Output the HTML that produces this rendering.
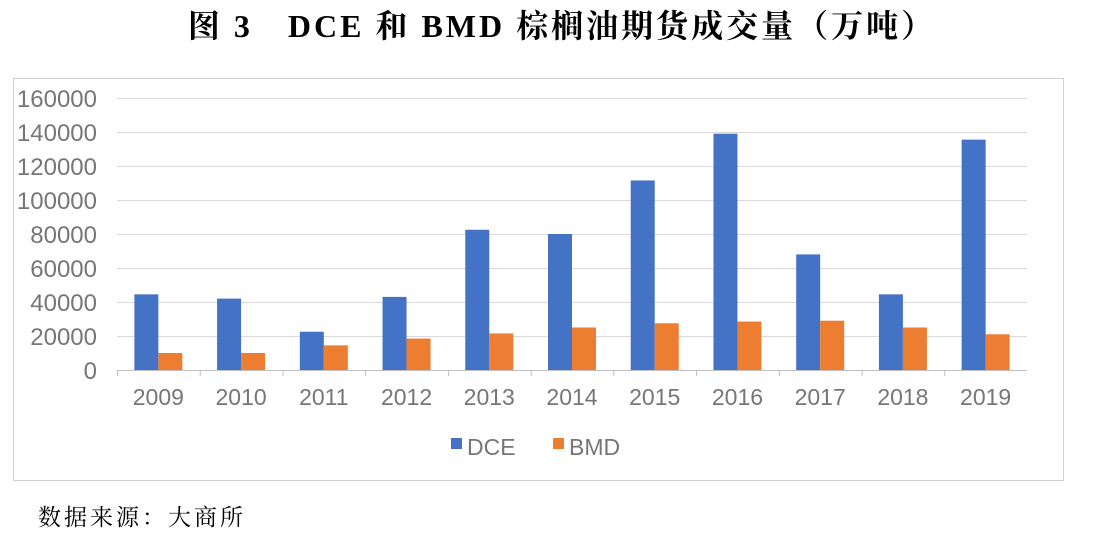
<!DOCTYPE html>
<html><head><meta charset="utf-8"><style>
body{margin:0;width:1100px;height:540px;background:#fff;overflow:hidden}
</style></head><body>
<svg width="1100" height="540" xmlns="http://www.w3.org/2000/svg">
<text x="562" y="37" text-anchor="middle" font-family="'Liberation Serif','Noto Serif CJK SC',serif" font-weight="bold" font-size="32" letter-spacing="3" fill="#000">图 3　DCE 和 BMD 棕榈油期货成交量（万吨）</text>
<rect x="13.5" y="78.5" width="1050" height="402" fill="#fff" stroke="#d0d0d0"/>
<g stroke="#d9d9d9" stroke-width="1">
<line x1="117" x2="1027" y1="98.5" y2="98.5"/>
<line x1="117" x2="1027" y1="132.5" y2="132.5"/>
<line x1="117" x2="1027" y1="166.5" y2="166.5"/>
<line x1="117" x2="1027" y1="200.5" y2="200.5"/>
<line x1="117" x2="1027" y1="234.5" y2="234.5"/>
<line x1="117" x2="1027" y1="268.5" y2="268.5"/>
<line x1="117" x2="1027" y1="302.5" y2="302.5"/>
<line x1="117" x2="1027" y1="336.5" y2="336.5"/>
</g>
<line x1="117" x2="1027" y1="370.5" y2="370.5" stroke="#bfbfbf"/>
<g font-family="'Liberation Sans',sans-serif" font-size="24" fill="#767676" text-anchor="end">
<text x="97" y="107">160000</text><text x="97" y="141">140000</text><text x="97" y="175">120000</text>
<text x="97" y="209">100000</text><text x="97" y="243">80000</text><text x="97" y="277">60000</text>
<text x="97" y="311">40000</text><text x="97" y="345">20000</text><text x="97" y="379">0</text>
</g>
<g id="bars"></g>
<g font-family="'Liberation Sans',sans-serif" font-size="23" fill="#767676" text-anchor="middle" id="xl"></g>
<rect x="451" y="438" width="11" height="11" fill="#4472c4"/>
<text x="467" y="455" font-family="'Liberation Sans',sans-serif" font-size="23" fill="#767676">DCE</text>
<rect x="553" y="438" width="11" height="11" fill="#ed7d31"/>
<text x="569" y="455" font-family="'Liberation Sans',sans-serif" font-size="23" fill="#767676">BMD</text>
<text x="38" y="525" font-family="'Noto Serif CJK SC',serif" font-size="23" letter-spacing="3" fill="#000">数据来源：大商所</text>
</svg>
<script>
var d=[44500,42000,22500,43000,82500,80000,111500,139000,68000,44500,135500];
var b=[10000,10000,14500,18500,21500,25000,27500,28500,29000,25000,21000];
var ns="http://www.w3.org/2000/svg",g=document.getElementById('bars'),xl=document.getElementById('xl');
var w=910/11;
for(var i=0;i<11;i++){var c=117+w*(i+0.5);
[[d[i],c-24,'#4472c4'],[b[i],c,'#ed7d31']].forEach(function(a){var r=document.createElementNS(ns,'rect');var h=a[0]*0.0017;
r.setAttribute('x',a[1]);r.setAttribute('width',24);r.setAttribute('y',370-h);r.setAttribute('height',h);r.setAttribute('fill',a[2]);g.appendChild(r);});
var t=document.createElementNS(ns,'text');t.setAttribute('x',c);t.setAttribute('y',405);t.textContent=2009+i;xl.appendChild(t);
var l=document.createElementNS(ns,'line');l.setAttribute('x1',117+w*i+0.5);l.setAttribute('x2',117+w*i+0.5);l.setAttribute('y1',370);l.setAttribute('y2',376);l.setAttribute('stroke','#bfbfbf');g.appendChild(l);}
</script>
</body></html>
